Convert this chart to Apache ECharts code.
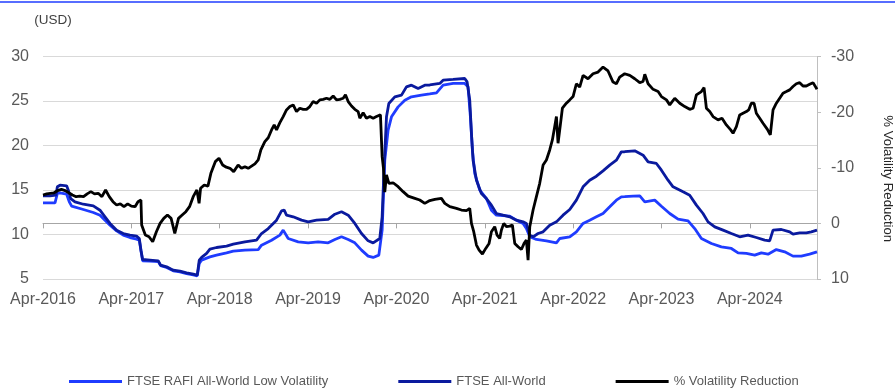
<!DOCTYPE html>
<html>
<head>
<meta charset="utf-8">
<script src="https://cdn.jsdelivr.net/npm/echarts@6/dist/echarts.min.js"></script>
<style>
  html, body { margin: 0; padding: 0; background: #ffffff; }
  #chart { width: 895px; height: 390px; }
</style>
</head>
<body>
<div id="chart"></div>
<script>
// Rolling volatility (USD) and volatility reduction, x = months since April 2016
const lowVolMonths = [0,1.63,1.95,2.31,3.21,3.57,3.89,5.48,6.83,7.74,8.42,9.1,10.0,10.9,11.81,12.71,13.08,13.3,13.53,14.52,15.66,15.97,16.79,17.69,18.6,19.5,20.41,20.95,21.22,21.54,22.67,23.57,24.93,25.84,27.42,29.23,29.68,31.04,32.17,32.62,32.85,33.3,34.66,36.02,37.37,38.73,39.64,40.54,41.45,42.35,43.26,44.16,44.84,45.61,46.06,46.42,46.87,47.33,48.23,49.14,50.04,51.4,52.53,53.44,54.34,55.7,57.28,57.73,58.05,58.32,58.64,59.32,60.22,60.9,61.58,63.39,64.3,65.2,65.65,66.11,67.01,68.37,69.73,70.18,71.54,72.44,73.35,74.25,75.16,76.06,76.97,77.87,78.55,79.0,80.14,81.05,81.73,83.08,83.99,85.12,86.25,87.61,88.51,89.42,90.78,92.13,93.49,94.4,95.53,96.66,97.56,98.47,99.6,100.73,101.86,102.99,104.12,105.12];
const lowVolValues = [13.56,13.56,14.61,14.68,14.53,13.67,13.18,12.81,12.47,12.17,11.61,11.05,10.41,9.93,9.66,9.48,9.36,8.24,7.05,7.0,6.95,6.5,6.3,5.92,5.8,5.6,5.45,5.35,6.74,7.12,7.49,7.68,7.94,8.13,8.24,8.31,8.8,9.36,9.93,10.49,10.3,9.55,9.18,9.06,9.18,9.06,9.44,9.74,9.44,9.06,8.24,7.57,7.42,7.68,10.49,18.35,21.72,23.22,24.34,25.09,25.47,25.66,25.8,25.92,26.78,26.97,26.97,26.59,23.22,19.48,16.85,14.98,14.04,12.73,12.17,12.06,11.61,11.24,10.67,9.74,9.44,9.29,9.06,9.55,9.74,10.3,11.24,11.61,11.99,12.36,13.11,13.86,14.23,14.25,14.31,14.34,13.67,13.86,13.18,12.36,11.72,11.54,10.67,9.55,8.99,8.61,8.43,7.94,7.87,7.68,7.94,7.79,8.31,8.05,7.57,7.57,7.79,8.05];

const allWorldMonths = [0,0.95,1.76,1.95,2.31,3.21,3.44,3.76,4.34,5.48,6.83,7.74,8.42,9.1,10.0,10.9,11.81,12.71,13.08,13.3,13.53,14.52,15.66,15.97,16.79,17.69,18.6,19.5,20.41,20.95,21.22,21.54,22.22,22.67,23.57,24.93,25.84,27.42,29.0,29.68,30.59,31.72,32.4,32.76,33.07,33.98,35.11,36.02,37.15,38.73,39.64,40.54,41.45,42.35,43.26,44.16,44.84,45.74,46.06,46.33,46.65,46.97,47.78,48.69,49.36,50.04,50.95,51.85,52.53,53.89,54.34,55.7,57.28,57.6,57.96,58.19,58.41,58.87,59.54,60.22,60.9,61.58,62.49,63.39,64.3,65.2,65.65,66.11,66.56,67.24,67.92,68.82,69.73,70.63,71.54,72.44,73.35,74.25,75.16,76.06,76.97,77.87,78.55,79.0,80.37,81.5,82.18,83.31,83.99,84.89,85.57,86.93,87.83,88.74,89.64,90.32,91.23,92.36,93.49,94.62,95.75,96.88,98.02,98.69,99.15,100.28,101.41,101.86,102.77,103.67,104.35,105.12];
const allWorldValues = [14.34,14.34,14.42,15.36,15.54,15.47,14.98,14.04,13.67,13.4,13.22,12.73,11.99,11.24,10.49,10.11,9.93,9.81,9.55,8.24,7.19,7.12,7.04,6.55,6.37,5.99,5.88,5.69,5.54,5.43,7.12,7.42,7.87,8.35,8.54,8.69,8.91,9.18,9.36,10.11,10.67,11.61,12.66,12.73,12.17,11.99,11.61,11.42,11.61,11.69,12.28,12.55,12.17,11.24,10.11,9.29,9.06,9.55,11.99,17.6,23.22,24.72,25.47,25.66,26.59,26.78,26.4,26.78,26.8,26.97,27.34,27.42,27.53,27.15,25.09,21.35,18.35,16.1,14.61,14.04,13.3,12.36,12.17,11.99,11.61,11.42,11.24,9.93,9.74,10.11,10.3,11.05,11.42,12.17,12.81,13.86,15.36,16.1,16.55,17.15,17.79,18.35,19.29,19.3,19.4,18.91,18.16,17.98,17.23,16.1,15.36,14.79,14.42,13.3,12.36,11.42,10.86,10.49,10.11,9.74,9.93,9.66,9.36,9.29,10.49,10.56,10.3,10.04,10.19,10.19,10.3,10.49];

const volRedMonths = [0,0.5,1,1.5,2,2.5,3,3.5,4,4.5,5,5.5,6,6.5,7,7.5,8,8.5,9,9.5,10,10.5,11,11.5,12,12.5,12.9,13.3,13.4,13.9,14.4,14.9,15.4,15.9,16.4,16.9,17.4,17.9,18.4,18.9,19.4,19.9,20.4,20.9,21.2,21.4,21.9,22.4,22.8,23.4,23.9,24.4,24.9,25.4,25.9,26.5,26.96,27.42,27.87,28.32,28.78,29.23,29.59,30.13,30.59,31.04,31.4,31.72,32.17,32.62,33.07,33.53,33.98,34.43,34.88,35.34,35.79,36.24,36.69,37.15,37.6,38.05,38.5,38.96,39.41,39.86,40.31,40.77,41.08,41.45,41.9,42.35,42.8,43.03,43.48,43.93,44.39,44.84,45.29,45.83,46.06,46.24,46.42,46.65,46.97,47.55,48.23,48.91,49.59,50.5,51.17,51.85,52.53,53.21,54.11,54.57,55.25,56.15,56.83,57.51,57.96,58.19,58.5,58.87,59.23,59.68,60.13,60.58,60.9,61.35,61.67,62.03,62.26,62.58,62.94,63.39,63.75,64.07,64.52,64.97,65.34,65.65,65.88,66.11,66.56,67.01,67.46,67.92,68.37,68.82,69.18,69.5,69.73,69.95,70.18,70.54,71.08,71.54,71.99,72.44,72.89,73.35,74.02,74.7,75.38,76.06,76.74,77.42,77.87,78.32,79.0,79.69,80.37,81.05,81.5,81.73,82.18,82.86,83.54,83.99,84.67,85.12,85.8,86.48,87.16,87.83,88.29,88.74,89.42,89.78,90.1,90.55,91.0,91.68,92.22,92.81,93.4,93.72,94.17,94.62,95.07,95.53,95.84,96.2,96.57,96.88,97.34,97.79,98.38,98.78,99.15,99.6,100.05,100.5,100.96,101.41,101.86,102.31,102.77,103.22,103.67,104.12,104.58,105.12];
const volRedValues = [-5.1,-5.3,-5.4,-5.5,-5.9,-6.1,-5.9,-5.5,-5.1,-4.8,-4.9,-4.8,-5.3,-5.7,-5.3,-5.4,-4.8,-6.0,-4.8,-3.9,-3.3,-3.5,-3.0,-3.5,-3.1,-3.0,-3.9,-4.2,0.3,2.1,2.4,3.3,1.5,0.0,-0.9,-1.5,-0.9,1.8,-0.9,-1.5,-2.1,-3.0,-4.8,-6.0,-3.6,-6.3,-6.9,-6.7,-9.0,-11.1,-11.7,-10.5,-10.1,-9.9,-9.3,-10.5,-9.9,-10.2,-9.9,-10.3,-10.7,-11.4,-13.2,-14.7,-15.4,-16.8,-17.7,-16.8,-18.1,-19.2,-20.4,-21.0,-21.3,-20.1,-20.7,-20.5,-20.5,-21.0,-21.9,-21.6,-22.2,-22.3,-22.5,-22.3,-22.9,-22.2,-22.3,-22.5,-23.1,-21.9,-21.1,-20.5,-20.1,-18.9,-19.9,-18.9,-19.2,-18.9,-19.2,-19.5,-12.0,-9.9,-5.6,-8.7,-7.2,-7.3,-6.6,-5.7,-4.9,-4.5,-4.2,-3.6,-4.1,-4.3,-4.5,-3.6,-3.0,-2.7,-2.4,-2.3,-2.7,0.0,1.5,3.9,4.8,5.5,4.5,3.6,1.5,0.6,2.1,2.7,1.2,0.0,0.6,0.5,0.3,3.6,4.2,4.7,3.6,3.0,6.6,0.6,-2.4,-4.8,-7.2,-10.5,-11.4,-13.2,-15.0,-17.4,-19.2,-14.4,-16.8,-20.7,-21.6,-22.2,-22.8,-25.1,-24.5,-26.6,-26.0,-26.9,-27.2,-28.1,-27.4,-25.4,-25.1,-26.3,-26.9,-26.6,-26.0,-25.3,-25.5,-26.8,-25.1,-24.1,-23.7,-22.8,-22.2,-21.3,-22.5,-21.6,-21.0,-20.5,-20.7,-23.1,-23.7,-24.4,-20.7,-20.1,-19.2,-18.6,-18.9,-17.7,-16.8,-16.2,-17.4,-19.5,-19.8,-20.1,-20.4,-21.6,-21.6,-19.8,-18.9,-18.0,-16.9,-15.9,-20.4,-21.6,-22.5,-23.4,-23.7,-24.0,-24.6,-25.1,-25.3,-24.7,-24.7,-25.0,-25.3,-24.1];

const seriesNames = ['FTSE RAFI All-World Low Volatility', 'FTSE All-World', '% Volatility Reduction'];
const startYear = 2016;
const lastMonth = 105.12;

const zip = (xs, ys) => xs.map((x, i) => [x, ys[i]]);
const FONT = "'Liberation Sans', Arial, sans-serif";

const chart = echarts.init(document.getElementById('chart'), null, { renderer: 'canvas' });
chart.setOption({
  animation: false,
  backgroundColor: '#ffffff',
  textStyle: { fontFamily: FONT },
  grid: { left: 43, right: 78, top: 56.5, bottom: 111, containLabel: false, outerBoundsMode: 'none' },
  graphic: [{
    type: 'line',
    shape: { x1: 0, y1: 2, x2: 895, y2: 2 },
    style: { stroke: '#1f3cff', lineWidth: 1.5 },
    silent: true
  }],
  legend: {
    data: seriesNames,
    left: 64,
    top: 370,
    itemWidth: 53,
    itemHeight: 3,
    itemGap: 70,
    icon: 'rect',
    textStyle: { fontFamily: FONT, fontSize: 13, color: '#595959' }
  },
  xAxis: {
    type: 'value',
    min: 0,
    max: lastMonth,
    interval: 12,
    axisLine: { show: true, lineStyle: { color: '#a6a6a6', width: 1 } },
    axisTick: { show: true, length: 5, lineStyle: { color: '#a6a6a6' } },
    splitLine: { show: false },
    axisLabel: {
      fontFamily: FONT, fontSize: 16, color: '#595959', margin: 13,
      showMaxLabel: false,
      formatter: v => 'Apr-' + (startYear + Math.round(v / 12))
    }
  },
  yAxis: [{
    type: 'value',
    min: 5,
    max: 30,
    interval: 5,
    name: '(USD)',
    nameLocation: 'end',
    nameGap: 36,
    nameTextStyle: { fontFamily: FONT, fontSize: 13.5, color: '#404040', align: 'center', verticalAlign: 'middle', padding: [0, 0, 0, 20] },
    axisLine: { show: false },
    axisTick: { show: false },
    splitLine: { show: true, lineStyle: { color: '#d9d9d9', width: 1 } },
    axisLabel: { fontFamily: FONT, fontSize: 16, color: '#595959', margin: 14 }
  }, {
    type: 'value',
    position: 'right',
    inverse: true,
    min: -30,
    max: 10,
    interval: 10,
    name: '% Volatility Reduction',
    nameLocation: 'middle',
    nameRotate: -90,
    nameGap: 64,
    nameTextStyle: { fontFamily: FONT, fontSize: 13.2, color: '#262626', padding: [0, 0, 0, 22] },
    axisLine: { show: true, lineStyle: { color: '#bfbfbf', width: 1 } },
    axisTick: { show: true, length: 4, lineStyle: { color: '#bfbfbf' } },
    splitLine: { show: false },
    axisLabel: { fontFamily: FONT, fontSize: 16, color: '#595959', margin: 14 }
  }],
  series: [{
    name: seriesNames[0],
    type: 'line',
    yAxisIndex: 0,
    data: zip(lowVolMonths, lowVolValues),
    showSymbol: false,
    symbol: 'none',
    lineStyle: { color: '#1f3cff', width: 2.8 },
    itemStyle: { color: '#1f3cff' }
  }, {
    name: seriesNames[1],
    type: 'line',
    yAxisIndex: 0,
    data: zip(allWorldMonths, allWorldValues),
    showSymbol: false,
    symbol: 'none',
    lineStyle: { color: '#0a1a9e', width: 2.8 },
    itemStyle: { color: '#0a1a9e' }
  }, {
    name: seriesNames[2],
    type: 'line',
    yAxisIndex: 1,
    data: zip(volRedMonths, volRedValues),
    showSymbol: false,
    symbol: 'none',
    lineStyle: { color: '#000000', width: 2.8 },
    itemStyle: { color: '#000000' }
  }]
});
</script>
</body>
</html>
